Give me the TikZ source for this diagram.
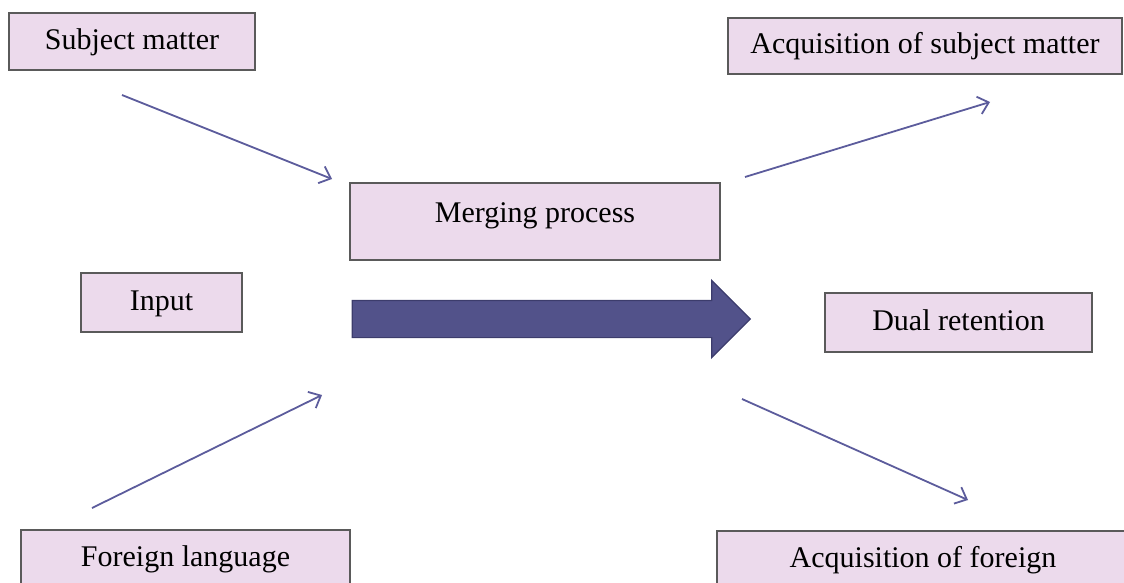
\documentclass[tikz,border=0pt]{standalone}
\usepackage{fontspec}
\setmainfont{Liberation Serif}
\usepackage{tikz}
\usetikzlibrary{shapes.arrows, arrows.meta, positioning}
\definecolor{boxfill}{HTML}{ECDAEC}
\definecolor{boxline}{HTML}{5A5A5A}
\definecolor{arrowblue}{HTML}{5C5C9C}
\definecolor{flowfill}{HTML}{52528A}
\definecolor{flowline}{HTML}{3C3C6C}

\begin{document}
\begin{tikzpicture}[x=1pt,y=-1pt,every node/.style={font=\fontsize{30}{34}\selectfont,inner sep=0pt,outer sep=0pt}]
\tikzstyle{box}=[draw=boxline,fill=boxfill,line width=1.2pt,text height=20pt,text depth=4pt]
\tikzstyle{link}=[draw=arrowblue,line width=1.8pt,-{Straight Barb[length=10pt,width=18pt,line width=1.8pt]}]

\useasboundingbox (0,0) rectangle (1124,583);
\clip (0,0) rectangle (1124,583);

% boxes
\node (subj) [box,minimum width=246pt,minimum height=57pt] at (132,41.5) {Subject matter};
\node (acqsubj) [box,minimum width=394pt,minimum height=56pt] at (925,46) {Acquisition of subject matter};
\node (merge) [box,minimum width=370pt,minimum height=77pt,text depth=19pt] at (535,221.5) {Merging process};
\node (input) [box,minimum width=161pt,minimum height=59pt] at (161.5,302.5) {Input};
\node (dual) [box,minimum width=267pt,minimum height=59pt] at (958.5,322.5) {Dual retention};
\node (foreign) [box,minimum width=329pt,minimum height=57pt] at (185.5,558.5) {Foreign language};
\node (acqfor) [box,minimum width=412pt,minimum height=57pt] at (923,559.5) {Acquisition of foreign};

% big arrow
\node (flow) [single arrow,draw=flowline,fill=flowfill,line width=1.2pt,
  inner ysep=18pt,minimum width=76pt,minimum height=398pt,
  single arrow head extend=20pt,single arrow tip angle=90] at (542,319) {};

% thin arrows
\coordinate (s1) at (122,95);   \coordinate (e1) at (332,179);
\coordinate (s2) at (92,508);   \coordinate (e2) at (322,395);
\coordinate (s3) at (745,177);  \coordinate (e3) at (990,102);
\coordinate (s4) at (742,399);  \coordinate (e4) at (968,500);
\draw [link] (s1) -- (e1);
\draw [link] (s2) -- (e2);
\draw [link] (s3) -- (e3);
\draw [link] (s4) -- (e4);
\end{tikzpicture}
\end{document}
